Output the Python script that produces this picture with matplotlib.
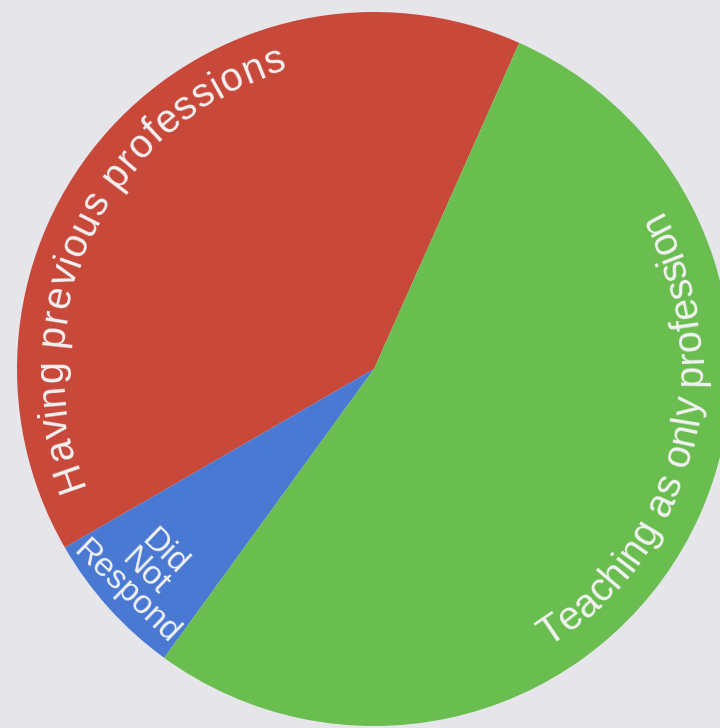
import numpy as np
import matplotlib
matplotlib.use("Agg")
import matplotlib.pyplot as plt
from matplotlib.font_manager import FontProperties, findfont
from matplotlib.ft2font import FT2Font

# dane: odpowiedzi ankiety (udzial w calosci)
categories = ["Having previous professions", "Did Not Respond", "Teaching as only profession"]
values = [12, 2, 16]
colors = ["#c8483a", "#4a79d3", "#69be4f"]

bg = "#e6e6ea"
txt_color = "#f2f2f2"
font_name = "Liberation Sans"

fig = plt.figure(figsize=(7.2, 7.28), dpi=100, facecolor=bg)
ax = fig.add_axes([0, 0, 1, 1])
ax.set_facecolor(bg)

cx, cy, R = 374, 359, 357
ax.pie(values, colors=colors, startangle=66, counterclock=True,
       center=(cx, cy), radius=R, wedgeprops=dict(linewidth=0))
ax.set_xlim(0, 720)
ax.set_ylim(0, 728)
ax.set_aspect("equal")
ax.axis("off")


def arc_text(s, r, a0, a1, fs, clockwise):
    # tekst wzdluz luku: kazda litera osobno, obrocona stycznie do okregu
    fp = FontProperties(family=font_name, size=fs)
    font = FT2Font(findfont(fp))
    font.set_size(fs, 72)
    adv = [font.load_char(ord(ch)).linearHoriAdvance / 65536 for ch in s]
    total = sum(adv)
    pos = 0.0
    for ch, w in zip(s, adv):
        frac = (pos + w / 2) / total
        a = np.radians(a0 + (a1 - a0) * frac)
        x, y = cx + r * np.cos(a), cy + r * np.sin(a)
        rot = np.degrees(a) - 90 if clockwise else np.degrees(a) + 90
        ax.text(x, y, ch, rotation=rot, rotation_mode="anchor", ha="center",
                va="baseline", fontsize=fs, family=font_name, color=txt_color)
        pos += w


arc_text(categories[0], 312, 202.0, 106.0, 28.5, clockwise=True)
arc_text(categories[2], 328, -58.0, 29.5, 28.5, clockwise=False)

ax.text(145, 728 - 572, "Did\nNot\nRespond", rotation=-44, rotation_mode="anchor",
        ha="center", va="center", multialignment="center", linespacing=0.86,
        fontsize=24, family=font_name, color=txt_color)

fig.savefig("out.png", dpi=100, facecolor=bg)
